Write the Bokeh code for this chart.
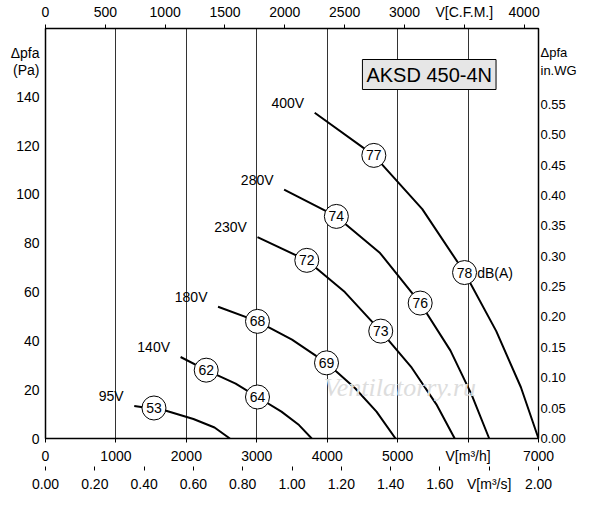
from bokeh.plotting import figure
from bokeh.models import Range1d, LinearAxis, Label, FixedTicker, NumeralTickFormatter
from bokeh.embed import file_html
from bokeh.resources import INLINE
from bokeh.core.properties import value

F = "Liberation Sans"
# curves: airflow m3/h, pressure Pa
v95_x = [1260, 1700, 2100, 2400, 2618]
v95_y = [13.3, 11.5, 8, 4.5, 0]
v140_x = [1918, 2282, 2700, 3010, 3350, 3600, 3780]
v140_y = [33.4, 28, 22.5, 17, 11, 5.5, 0]
v180_x = [2450, 3010, 3500, 3990, 4400, 4700, 4970]
v180_y = [54, 48, 40.5, 31, 20.5, 11, 0]
v230_x = [3010, 3710, 4250, 4760, 5200, 5550, 5810]
v230_y = [82.5, 73, 60, 44, 29, 14, 0]
v280_x = [3388, 4130, 4750, 5320, 5750, 6050, 6300]
v280_y = [102, 91, 76, 55.5, 36, 18, 0]
v400_x = [3822, 4662, 5350, 5950, 6400, 6750, 7000]
v400_y = [133.5, 116, 94, 68, 44, 21, 0]
curves = [(v95_x, v95_y), (v140_x, v140_y), (v180_x, v180_y),
          (v230_x, v230_y), (v280_x, v280_y), (v400_x, v400_y)]
volt_labels = ["95V", "140V", "180V", "230V", "280V", "400V"]
db_x = [1540, 2282, 3010, 3010, 3990, 3710, 4760, 4130, 5320, 4662, 5950]
db_y = [12.5, 28, 17, 48, 31, 73, 44, 91, 55.5, 116, 68]
db_txt = ["53", "62", "64", "68", "69", "72", "73", "74", "76", "77", "78"]

PA_MAX = 168
p = figure(width=584, height=494, x_range=Range1d(0, 7000), y_range=Range1d(0, PA_MAX),
           output_backend="svg", toolbar_location=None,
           min_border_left=45, min_border_right=46, min_border_top=15, min_border_bottom=30)
p.outline_line_color = "black"
p.outline_line_width = 1.5
p.ygrid.visible = False
p.xgrid.grid_line_color = "black"
p.xgrid.grid_line_alpha = 0.8
p.xgrid.ticker = FixedTicker(ticks=list(range(1000, 7000, 1000)))

def style(ax, fmt=None, tick=4, size="14px"):
    ax.major_label_text_font = F
    ax.major_label_text_font_size = size
    ax.major_label_text_color = "black"
    ax.axis_line_color = None
    ax.major_tick_line_color = "black" if tick else None
    ax.minor_tick_line_color = None
    ax.major_tick_in = 0
    ax.major_tick_out = tick
    if fmt:
        ax.major_label_overrides = fmt

p.xaxis.ticker = FixedTicker(ticks=list(range(0, 7001, 1000)))
style(p.xaxis[0], {6000: "V[m³/h]"})
p.yaxis.ticker = FixedTicker(ticks=list(range(0, 141, 20)) + [151, 158])
style(p.yaxis[0], {151: "(Pa)", 158: "Δpfa"}, tick=0)
p.yaxis.major_label_standoff = 6

p.extra_x_ranges = {"ms": Range1d(0, 2), "cfm": Range1d(0, 7000 / 1.699)}
p.extra_y_ranges = {"wg": Range1d(0, PA_MAX / 249.0)}
ax2 = LinearAxis(x_range_name="ms", ticker=FixedTicker(ticks=[round(i * 0.2, 1) for i in range(11)]),
                 formatter=NumeralTickFormatter(format="0.00"))
style(ax2, {1.8: "V[m³/s]"})
p.add_layout(ax2, "below")
axt = LinearAxis(x_range_name="cfm", ticker=FixedTicker(ticks=list(range(0, 4001, 500))))
style(axt, {3500: "V[C.F.M.]"})
p.add_layout(axt, "above")
axr = LinearAxis(y_range_name="wg",
                 ticker=FixedTicker(ticks=[round(i * 0.05, 2) for i in range(12)] + [0.6064, 0.6345]),
                 formatter=NumeralTickFormatter(format="0.00"))
style(axr, {0.6064: "in.WG", 0.6345: "Δpfa"}, tick=0, size="13px")
axr.major_label_standoff = 2
p.add_layout(axr, "right")

for (xs, ys) in curves:
    p.line(xs, ys, line_color="black", line_width=2)
for (xs, ys), t in zip(curves, volt_labels):
    p.text([xs[0] - 150], [ys[0]], text=[t], text_font=value(F), text_font_size="14px",
           text_align="right", text_baseline="bottom", y_offset=-2)
p.scatter(db_x, db_y, size=24, fill_color="white", line_color="black", line_width=1)
p.text(db_x, db_y, text=db_txt, text_font=value(F), text_font_size="14px",
       text_align="center", text_baseline="middle")
p.text([db_x[-1] + 180], [db_y[-1]], text=["dB(A)"], text_font=value(F), text_font_size="14px",
       text_align="left", text_baseline="middle")

p.add_layout(Label(x=4500, y=143, text="AKSD 450-4N", text_font=F, text_font_size="20px",
                   background_fill_color="#e6e6e6", border_line_color="black",
                   padding=4, text_color="black"))
p.add_layout(Label(x=3950, y=15, text="Ventilatorry.ru", text_font="Liberation Serif",
                   text_font_size="26px", text_font_style="italic", text_color="#dddddd"))

open("out.html", "w").write(file_html(p, INLINE))
